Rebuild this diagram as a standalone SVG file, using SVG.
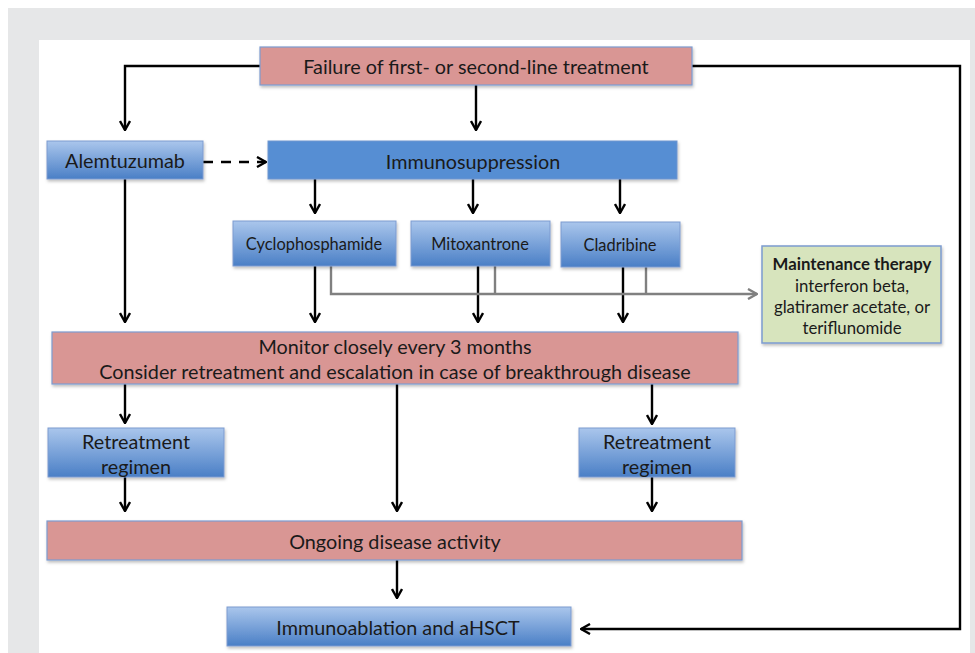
<svg xmlns="http://www.w3.org/2000/svg" width="975" height="653" viewBox="0 0 975 653">
<defs>
<linearGradient id="bg" x1="0" y1="0" x2="0" y2="1">
<stop offset="0" stop-color="#aac6ec"/>
<stop offset="1" stop-color="#4a7fc6"/>
</linearGradient>
<filter id="sh" x="-5%" y="-10%" width="110%" height="130%">
<feDropShadow dx="1" dy="2" stdDeviation="1.5" flood-color="#000" flood-opacity="0.25"/>
</filter>
<marker id="ah" viewBox="0 0 12 12" refX="11" refY="6" markerWidth="12" markerHeight="12" markerUnits="userSpaceOnUse" orient="auto">
<path d="M2,1 L11,6 L2,11" fill="none" stroke="#000" stroke-width="2.4"/>
</marker>
<marker id="ahg" viewBox="0 0 12 12" refX="11" refY="6" markerWidth="12" markerHeight="12" markerUnits="userSpaceOnUse" orient="auto">
<path d="M2,1 L11,6 L2,11" fill="none" stroke="#808080" stroke-width="2.4"/>
</marker>
</defs>
<style>
.pink{fill:#d99694;stroke:#7c9bd0;stroke-width:1.2;filter:url(#sh)}
.grad{fill:url(#bg);stroke:#7c9bd0;stroke-width:1;filter:url(#sh)}
.flat{fill:#568ed3;stroke:#6f95cf;stroke-width:1;filter:url(#sh)}
.green{fill:#d7e4bd;stroke:#7c9bd0;stroke-width:1.5;filter:url(#sh)}
text{font-family:Lato,"Liberation Sans",sans-serif;fill:#1a1a1a;text-anchor:middle;dominant-baseline:central}
.l{font-size:19.8px}
.s{font-size:16.4px}
.t{font-size:16.8px}
.b{font-weight:bold}
.c{fill:none;stroke:#000;stroke-width:2.4;marker-end:url(#ah)}
.g{fill:none;stroke:#808080;stroke-width:2.4}
</style>
<rect x="0" y="0" width="975" height="653" fill="#ffffff"/>
<rect x="8" y="8" width="967" height="645" fill="#e6e7e8"/>
<rect x="39" y="40" width="931" height="613" fill="#ffffff"/>

<g id="connectors">
<path class="c" d="M260,66 H125 V130"/>
<path class="c" d="M476,85 V130"/>
<path class="c" d="M203,162 H266" stroke-dasharray="10,8" />
<path class="c" d="M315,179 V213"/>
<path class="c" d="M473,179 V213"/>
<path class="c" d="M620,179 V213"/>
<path class="c" d="M125,179 V322"/>
<path class="c" d="M315,266 V322"/>
<path class="c" d="M478,266 V322"/>
<path class="c" d="M623,266 V322"/>
<path class="g" d="M331,266 V294 H757" marker-end="url(#ahg)"/>
<path class="g" d="M495,266 V294"/>
<path class="g" d="M646,266 V294"/>
<path class="c" d="M125,384 V423"/>
<path class="c" d="M652,384 V424"/>
<path class="c" d="M397,384 V511"/>
<path class="c" d="M125,477 V511"/>
<path class="c" d="M652,477 V511"/>
<path class="c" d="M397,560 V598"/>
<path class="c" d="M692,66 H960 V629 H581"/>
</g>

<g id="failure">
<rect class="pink" x="260" y="47" width="432" height="38"/>
<text class="l" x="476" y="66">Failure of first- or second-line treatment</text>
</g>
<g id="alemtuzumab">
<rect class="grad" x="47" y="141" width="156" height="38"/>
<text class="l" x="125" y="160">Alemtuzumab</text>
</g>
<g id="immunosuppression">
<rect class="flat" x="268" y="141" width="409" height="38"/>
<text class="l" x="473" y="161">Immunosuppression</text>
</g>
<g id="cyclophosphamide">
<rect class="grad" x="233" y="221" width="163" height="45"/>
<text class="s" x="314" y="243">Cyclophosphamide</text>
</g>
<g id="mitoxantrone">
<rect class="grad" x="411" y="221" width="139" height="45"/>
<text class="s" x="480" y="243">Mitoxantrone</text>
</g>
<g id="cladribine">
<rect class="grad" x="561" y="222" width="119" height="45"/>
<text class="s" x="620" y="244">Cladribine</text>
</g>
<g id="maintenance">
<rect class="green" x="762" y="246" width="179" height="97"/>
<text class="t b" x="852" y="263">Maintenance therapy</text>
<text class="t" x="852" y="285">interferon beta,</text>
<text class="t" x="852" y="306">glatiramer acetate, or</text>
<text class="t" x="852" y="327">teriflunomide</text>
</g>
<g id="monitor">
<rect class="pink" x="52" y="332" width="686" height="52"/>
<text class="l" x="395" y="346">Monitor closely every 3 months</text>
<text class="l" x="395" y="371">Consider retreatment and escalation in case of breakthrough disease</text>
</g>
<g id="retreatment-left">
<rect class="grad" x="48" y="428" width="176" height="49"/>
<text class="l" x="136" y="441">Retreatment</text>
<text class="l" x="136" y="466">regimen</text>
</g>
<g id="retreatment-right">
<rect class="grad" x="579" y="428" width="156" height="49"/>
<text class="l" x="657" y="441">Retreatment</text>
<text class="l" x="657" y="466">regimen</text>
</g>
<g id="ongoing">
<rect class="pink" x="47" y="521" width="695" height="39"/>
<text class="l" x="395" y="541">Ongoing disease activity</text>
</g>
<g id="immunoablation">
<rect class="grad" x="227" y="607" width="344" height="39"/>
<text class="l" x="398" y="627">Immunoablation and aHSCT</text>
</g>
</svg>
